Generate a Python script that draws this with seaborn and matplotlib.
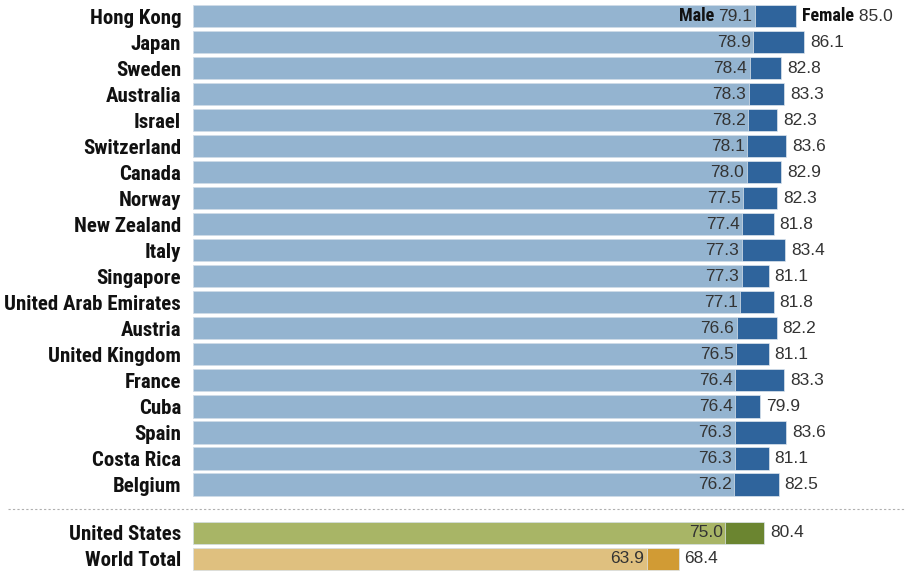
import pandas as pd
import seaborn as sns
import matplotlib.pyplot as plt

# Life expectancy at birth, top countries plus US and world
countries = ["Hong Kong", "Japan", "Sweden", "Australia", "Israel", "Switzerland",
             "Canada", "Norway", "New Zealand", "Italy", "Singapore",
             "United Arab Emirates", "Austria", "United Kingdom", "France", "Cuba",
             "Spain", "Costa Rica", "Belgium", "United States", "World Total"]
male = [79.1, 78.9, 78.4, 78.3, 78.2, 78.1, 78.0, 77.5, 77.4, 77.3, 77.3,
        77.1, 76.6, 76.5, 76.4, 76.4, 76.3, 76.3, 76.2, 75.0, 63.9]
female = [85.0, 86.1, 82.8, 83.3, 82.3, 83.6, 82.9, 82.3, 81.8, 83.4, 81.1,
          81.8, 82.2, 81.1, 83.3, 79.9, 83.6, 81.1, 82.5, 80.4, 68.4]
groups = ["top"] * 19 + ["us", "world"]

male_colors = {"top": "#94b4d0", "us": "#a8b566", "world": "#dfc07f"}
female_colors = {"top": "#2f649c", "us": "#6b8530", "world": "#d19b34"}

# row positions: a gap before the US / world rows
pos = list(range(19)) + [19.85, 20.85]

df = pd.DataFrame({"country": countries, "male": male, "female": female,
                   "group": groups, "pos": pos})

sns.set_style("white")
plt.rcParams['font.family'] = ['Liberation Sans', 'DejaVu Sans']
cond = dict(family=['Roboto Condensed', 'Liberation Sans Narrow', 'DejaVu Sans'],
            fontstretch='condensed', fontweight='bold', color='#111111')

fig = plt.figure(figsize=(9.05, 5.73), dpi=100)
ax = fig.add_axes([193 / 905, 0, 1 - 193 / 905, 1])

# female bar drawn full length, male bar on top of it
sns.barplot(data=df, x="female", y="pos", hue="group", palette=female_colors,
            orient="y", native_scale=True, dodge=False, width=0.85, saturation=1,
            edgecolor="#dde6ee", linewidth=0.5, legend=False, ax=ax)
sns.barplot(data=df, x="male", y="pos", hue="group", palette=male_colors,
            orient="y", native_scale=True, dodge=False, width=0.85, saturation=1,
            edgecolor="#dde6ee", linewidth=0.5, legend=False, ax=ax)

ax.set_xlim(0, 100.3)
ax.set_ylim(21.4, -0.62)
ax.set_xticks([])
ax.set_yticks(pos)
ax.set_yticklabels(countries, fontsize=15, **cond)
ax.tick_params(axis="y", length=0, pad=8.5)
ax.set_xlabel("")
ax.set_ylabel("")
sns.despine(ax=ax, left=True, bottom=True)

txt = "#333333"
for i, row in df.iterrows():
    mt = ax.text(row["male"] - 0.35, row["pos"], f"{row['male']:.1f}",
                 ha="right", va="center", fontsize=12.5, color=txt)
    if i == 0:
        ax.annotate("Male ", xy=(0, 0.5), xycoords=mt, ha="right", va="center",
                    fontsize=13, **cond)
        ft = ax.text(row["female"] + 0.85, row["pos"], "Female",
                     ha="left", va="center", fontsize=13, **cond)
        ax.annotate(f" {row['female']:.1f}", xy=(1, 0.5), xycoords=ft,
                    ha="left", va="center", fontsize=12.5, color=txt)
    else:
        ax.text(row["female"] + 0.85, row["pos"], f"{row['female']:.1f}",
                ha="left", va="center", fontsize=12.5, color=txt)

# dotted separator between the list and the reference rows
sep = (18 + 19.85) / 2
ax.plot([-0.26, 1], [sep, sep], transform=ax.get_yaxis_transform(),
        clip_on=False, color="#b0b0b0", linestyle=(0, (2, 2)), linewidth=0.8)

fig.savefig("out.png", dpi=100)
